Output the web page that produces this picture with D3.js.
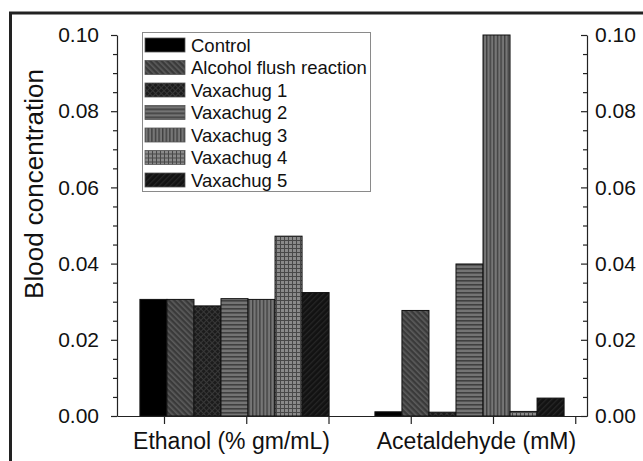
<!DOCTYPE html>
<html>
<head>
<meta charset="utf-8">
<script src="https://cdn.jsdelivr.net/npm/d3@7"></script>
<style>
  body { margin: 0; background: #fff; }
  svg { display: block; font-family: "Liberation Sans", Arial, sans-serif; }
</style>
</head>
<body>
<svg id="chart" width="643" height="461"></svg>
<script>
// ---- data ----
const categories = ["Ethanol (% gm/mL)", "Acetaldehyde (mM)"];
const categoryPos = [1, 2];
const seriesNames = ["Control", "Alcohol flush reaction", "Vaxachug 1", "Vaxachug 2", "Vaxachug 3", "Vaxachug 4", "Vaxachug 5"];
const ethanolValues = [0.0306, 0.0306, 0.0289, 0.0308, 0.0306, 0.0472, 0.0324];
const acetaldehydeValues = [0.0011, 0.0277, 0.0010, 0.0399, 0.1000, 0.0012, 0.0047];
const yTicks = [0, 0.02, 0.04, 0.06, 0.08, 0.10];
const yMinorTicks = [0.005, 0.01, 0.015, 0.025, 0.03, 0.035, 0.045, 0.05, 0.055, 0.065, 0.07, 0.075, 0.085, 0.09, 0.095];
const xTicks = [0.7, 1.05, 1.4, 1.75, 2.1, 2.45];

const groups = [ethanolValues, acetaldehydeValues];
const svg = d3.select("#chart");

// ---- patterns ----
const defs = svg.append("defs");
function pat(id, w, h, base, transform) {
  const p = defs.append("pattern").attr("id", id).attr("patternUnits", "userSpaceOnUse")
    .attr("width", w).attr("height", h);
  if (transform) p.attr("patternTransform", transform);
  p.append("rect").attr("width", w).attr("height", h).attr("fill", base);
  return p;
}
pat("p1", 4, 4, "#3a3a3a", "rotate(-45)").append("rect").attr("x", 0).attr("y", 0).attr("width", 1.6).attr("height", 4).attr("fill", "#5c5c5c");
{
  const p = pat("p2", 4, 4, "#1c1c1c", "rotate(45)");
  p.append("rect").attr("width", 1).attr("height", 4).attr("fill", "#383838");
  p.append("rect").attr("width", 4).attr("height", 1).attr("fill", "#383838");
}
pat("p3", 4, 4, "#747474").append("rect").attr("y", 0).attr("width", 4).attr("height", 1.6).attr("fill", "#404040");
pat("p4", 3.6, 4, "#767676").append("rect").attr("x", 0).attr("width", 1.4).attr("height", 4).attr("fill", "#404040");
{
  const p = pat("p5", 4, 4, "#8a8a8a");
  p.append("rect").attr("width", 1).attr("height", 4).attr("fill", "#484848");
  p.append("rect").attr("width", 4).attr("height", 1).attr("fill", "#484848");
}
pat("p6", 4, 4, "#121212", "rotate(45)").append("rect").attr("width", 1.3).attr("height", 4).attr("fill", "#262626");

const fills = ["#000000", "url(#p1)", "url(#p2)", "url(#p3)", "url(#p4)", "url(#p5)", "url(#p6)"];

// ---- scales ----
const x = d3.scaleLinear().domain([0.5, 2.5]).range([117, 587]);
const y = d3.scaleLinear().domain([0, 0.10]).range([416, 35]).clamp(true);
const barW = 0.115;

// ---- bars ----
const barData = [];
groups.forEach((vals, g) => {
  vals.forEach((v, i) => {
    barData.push({ g, i, v, x0: categoryPos[g] - 3.5 * barW + i * barW });
  });
});
svg.append("g").selectAll("rect").data(barData).join("rect")
  .attr("x", d => x(d.x0))
  .attr("width", d => x(d.x0 + barW) - x(d.x0))
  .attr("y", d => y(d.v))
  .attr("height", d => y(0) - y(d.v))
  .attr("fill", d => fills[d.i])
  .attr("stroke", "#111")
  .attr("stroke-width", 1);

// ---- axes ----
const axisColor = "#222";
function styleAxis(g) {
  g.selectAll("path, line").attr("stroke", axisColor).attr("stroke-width", 1.2);
  g.selectAll("text").attr("fill", "#111").style("font-size", "21px")
    .style("font-family", "'Liberation Sans', Arial, sans-serif");
}
svg.append("g").attr("transform", `translate(${x(0.5)},0)`)
  .call(d3.axisLeft(y).tickValues(yMinorTicks).tickSize(4).tickFormat("").tickSizeOuter(0))
  .call(g => g.select(".domain").remove()).call(styleAxis);
svg.append("g").attr("transform", `translate(${x(0.5)},0)`)
  .call(d3.axisLeft(y).tickValues(yTicks).tickSize(6).tickPadding(12).tickSizeOuter(0).tickFormat(d3.format(".2f")))
  .call(styleAxis);
svg.append("g").attr("transform", `translate(${x(2.5)},0)`)
  .call(d3.axisRight(y).tickValues(yMinorTicks).tickSize(-4).tickFormat("").tickSizeOuter(0))
  .call(g => g.select(".domain").remove()).call(styleAxis);
svg.append("g").attr("transform", `translate(${x(2.5)},0)`)
  .call(d3.axisRight(y).tickValues(yTicks).tickSize(-6).tickPadding(8).tickSizeOuter(0).tickFormat(d3.format(".2f")))
  .call(styleAxis);
svg.append("g").attr("transform", `translate(0,${y(0)})`)
  .call(d3.axisBottom(x).tickValues(xTicks).tickSize(8).tickFormat("").tickSizeOuter(0))
  .call(styleAxis);

// category labels
const labelShift = [-3, 7];
svg.append("g").selectAll("text").data(categories).join("text")
  .attr("x", (d, i) => x(categoryPos[i]) + labelShift[i])
  .attr("y", 449)
  .attr("text-anchor", "middle")
  .style("font-size", "23px")
  .attr("fill", "#111")
  .text(d => d);

// y title
svg.append("text")
  .attr("transform", "translate(43,184) rotate(-90)")
  .attr("text-anchor", "middle")
  .style("font-size", "26px")
  .attr("fill", "#111")
  .text("Blood concentration");

// ---- legend ----
const lg = svg.append("g");
lg.append("rect").attr("x", 142.5).attr("y", 32.5).attr("width", 228).attr("height", 159)
  .attr("fill", "#fff").attr("stroke", "#8a8a8a").attr("stroke-width", 1);
const rows = lg.selectAll("g.row").data(seriesNames).join("g").attr("class", "row")
  .attr("transform", (d, i) => `translate(0,${45 + i * 22.5})`);
rows.append("rect").attr("x", 145).attr("y", -7).attr("width", 40).attr("height", 14)
  .attr("fill", (d, i) => fills[i]).attr("stroke", "#555").attr("stroke-width", 0.8);
rows.append("text").attr("x", 191).attr("y", 6.5).style("font-size", "18.5px").attr("fill", "#111").text(d => d);

// ---- outer frame ----
svg.append("path").attr("d", "M10.5,470 V13 H660").attr("fill", "none")
  .attr("stroke", "#222").attr("stroke-width", 3);
</script>
</body>
</html>
